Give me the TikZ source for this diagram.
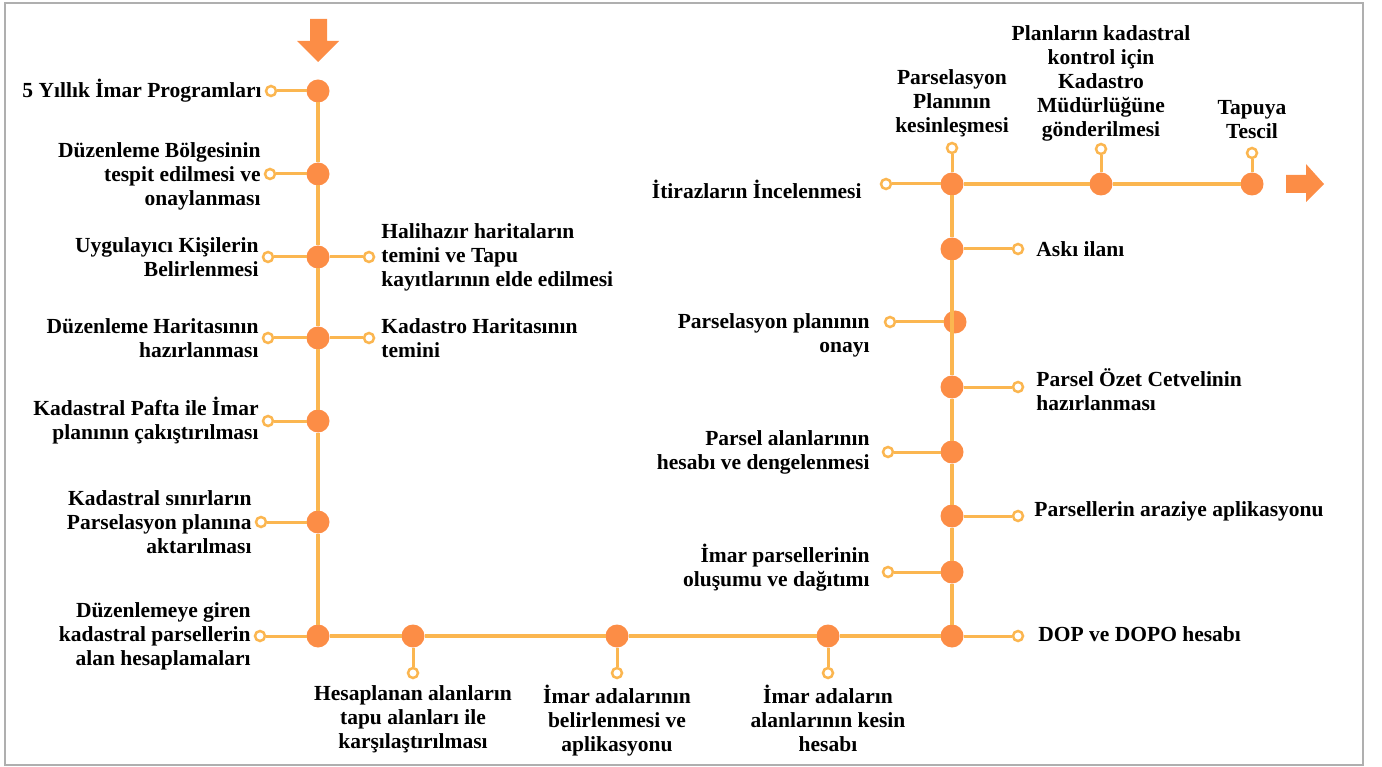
\documentclass[tikz,border=0pt]{standalone}
\usepackage{fontspec}
\setmainfont{Liberation Serif}
\definecolor{dotor}{RGB}{252,141,70}
\definecolor{lineor}{RGB}{251,182,80}
\definecolor{frame}{RGB}{175,175,175}
\begin{document}
\begin{tikzpicture}[x=1pt,y=-1pt,
  big/.style={circle, fill=dotor, minimum size=23pt, inner sep=0pt, outer sep=0pt},
  small/.style={circle, draw=lineor, fill=white, line width=2.5pt, minimum size=10pt, inner sep=0pt},
  mainline/.style={draw=lineor, line width=4pt},
  stub/.style={draw=lineor, line width=3pt},
  txt/.style={font=\bfseries\fontsize{21.5}{24}\selectfont, inner sep=0pt},
  lt/.style={txt, anchor=east, align=right},
  rt/.style={txt, anchor=west, align=left},
  bt/.style={txt, anchor=north, align=center},
  tp/.style={txt, anchor=south, align=center},
  arrowshape/.style={fill=dotor}
]
\useasboundingbox (0,0) rectangle (1382,767);
\draw[frame, line width=2pt] (5,3) rectangle (1363,765);

% main dots
\node[big] (L1) at (318,91) {};
\node[big] (L2) at (318,174) {};
\node[big] (L3) at (318,257) {};
\node[big] (L4) at (318,338) {};
\node[big] (L5) at (318,421) {};
\node[big] (L6) at (318,522) {};
\node[big] (L7) at (318,636) {};
\node[big] (B1) at (413,636) {};
\node[big] (B2) at (617,636) {};
\node[big] (B3) at (828,636) {};
\node[big] (R1) at (952,636) {};
\node[big] (R2) at (952,572) {};
\node[big] (R3) at (952,516) {};
\node[big] (R4) at (952,452) {};
\node[big] (R5) at (952,387) {};
\node[big] (R6) at (955,322) {};
\node[big] (R7) at (952,249) {};
\node[big] (R8) at (952,184) {};
\node[big] (T2) at (1101,184) {};
\node[big] (T3) at (1252,184) {};

% small end circles
\node[small] (L1s) at (271,91) {};
\node[small] (L2s) at (270,174) {};
\node[small] (L3s) at (268,257) {};
\node[small] (L3r) at (369,257) {};
\node[small] (L4s) at (268,338) {};
\node[small] (L4r) at (369,338) {};
\node[small] (L5s) at (268,421) {};
\node[small] (L6s) at (261,522) {};
\node[small] (L7s) at (260,636) {};
\node[small] (B1s) at (413,673) {};
\node[small] (B2s) at (617,673) {};
\node[small] (B3s) at (828,673) {};
\node[small] (R1s) at (1018,636) {};
\node[small] (R2s) at (888,572) {};
\node[small] (R3s) at (1018,516) {};
\node[small] (R4s) at (888,452) {};
\node[small] (R5s) at (1018,387) {};
\node[small] (R6s) at (890,322) {};
\node[small] (R7s) at (1018,249) {};
\node[small] (R8s) at (886,184) {};
\node[small] (R8u) at (952,148) {};
\node[small] (T2u) at (1101,149) {};
\node[small] (T3u) at (1252,153) {};

% main path
\draw[mainline] (L1) -- (L2) -- (L3) -- (L4) -- (L5) -- (L6) -- (L7) -- (B1) -- (B2) -- (B3) -- (R1)
  -- (R2) -- (R3) -- (R4) -- (R5) -- (R7) -- (R8) -- (T2) -- (T3);

% stubs
\foreach \a/\b in {L1/L1s,L2/L2s,L3/L3s,L3/L3r,L4/L4s,L4/L4r,L5/L5s,L6/L6s,L7/L7s,
  B1/B1s,B2/B2s,B3/B3s,R1/R1s,R2/R2s,R3/R3s,R4/R4s,R5/R5s,R6/R6s,R7/R7s,R8/R8s,R8/R8u,T2/T2u,T3/T3u}
  \draw[stub] (\a) -- (\b);

% arrows
\fill[arrowshape] (310,19) -- (327,19) -- (327,41) -- (339,41) -- (318,62) -- (297,41) -- (310,41) -- cycle;
\fill[arrowshape] (1286,175) -- (1306,175) -- (1306,164) -- (1324,184) -- (1306,202) -- (1306,193) -- (1286,193) -- cycle;

% left labels
\node[lt] (tL1) at ([xshift=-3pt]L1s.west) {5 Yıllık İmar Programları};
\node[lt] (tL2) at ([xshift=-3pt,yshift=-2pt]L2s.west) {Düzenleme Bölgesinin\\tespit edilmesi ve\\onaylanması};
\node[lt] (tL3) at ([xshift=-3pt]L3s.west) {Uygulayıcı Kişilerin\\Belirlenmesi};
\node[rt] (tL3r) at ([xshift=6pt]L3r.east) {Halihazır haritaların\\temini ve Tapu\\kayıtlarının elde edilmesi};
\node[lt] (tL4) at ([xshift=-3pt]L4s.west) {Düzenleme Haritasının\\hazırlanması};
\node[rt] (tL4r) at ([xshift=6pt]L4r.east) {Kadastro Haritasının\\temini};
\node[lt] (tL5) at ([xshift=-3pt]L5s.west) {Kadastral Pafta ile İmar\\planının çakıştırılması};
\node[lt] (tL6) at ([xshift=-3pt]L6s.west) {Kadastral sınırların\\Parselasyon planına\\aktarılması};
\node[lt] (tL7) at ([xshift=-3pt]L7s.west) {Düzenlemeye giren\\kadastral parsellerin\\alan hesaplamaları};

% bottom labels
\node[bt] (tB1) at ([yshift=-6pt]B1s.south) {Hesaplanan alanların\\tapu alanları ile\\karşılaştırılması};
\node[bt] (tB2) at ([yshift=-6pt]B2s.south) {İmar adalarının\\belirlenmesi ve\\aplikasyonu};
\node[bt] (tB3) at ([yshift=-6pt]B3s.south) {İmar adaların\\alanlarının kesin\\hesabı};

% right labels
\node[rt] (tR1) at ([xshift=14pt,yshift=2pt]R1s.east) {DOP ve DOPO hesabı};
\node[lt] (tR2) at ([xshift=-12pt,yshift=4pt]R2s.west) {İmar parsellerinin\\oluşumu ve dağıtımı};
\node[rt] (tR3) at ([xshift=10pt,yshift=5pt]R3s.east) {Parsellerin araziye aplikasyonu};
\node[lt] (tR4) at ([xshift=-12pt]R4s.west) {Parsel alanlarının\\hesabı ve dengelenmesi};
\node[rt] (tR5) at ([xshift=12pt,yshift=-3pt]R5s.east) {Parsel Özet Cetvelinin\\hazırlanması};
\node[lt] (tR6) at ([xshift=-14pt,yshift=-13pt]R6s.west) {Parselasyon planının\\onayı};
\node[rt] (tR7) at ([xshift=12pt]R7s.east) {Askı ilanı};
\node[lt] (tR8) at ([xshift=-18pt,yshift=-5pt]R8s.west) {İtirazların İncelenmesi};

% top labels
\node[tp] (tR8u) at ([yshift=5pt]R8u.north) {Parselasyon\\Planının\\kesinleşmesi};
\node[tp] (tT2u) at ([yshift=1pt]T2u.north) {Planların kadastral\\kontrol için\\Kadastro\\Müdürlüğüne\\gönderilmesi};
\node[tp] (tT3u) at ([yshift=8pt]T3u.north) {Tapuya\\Tescil};
\end{tikzpicture}
\end{document}
